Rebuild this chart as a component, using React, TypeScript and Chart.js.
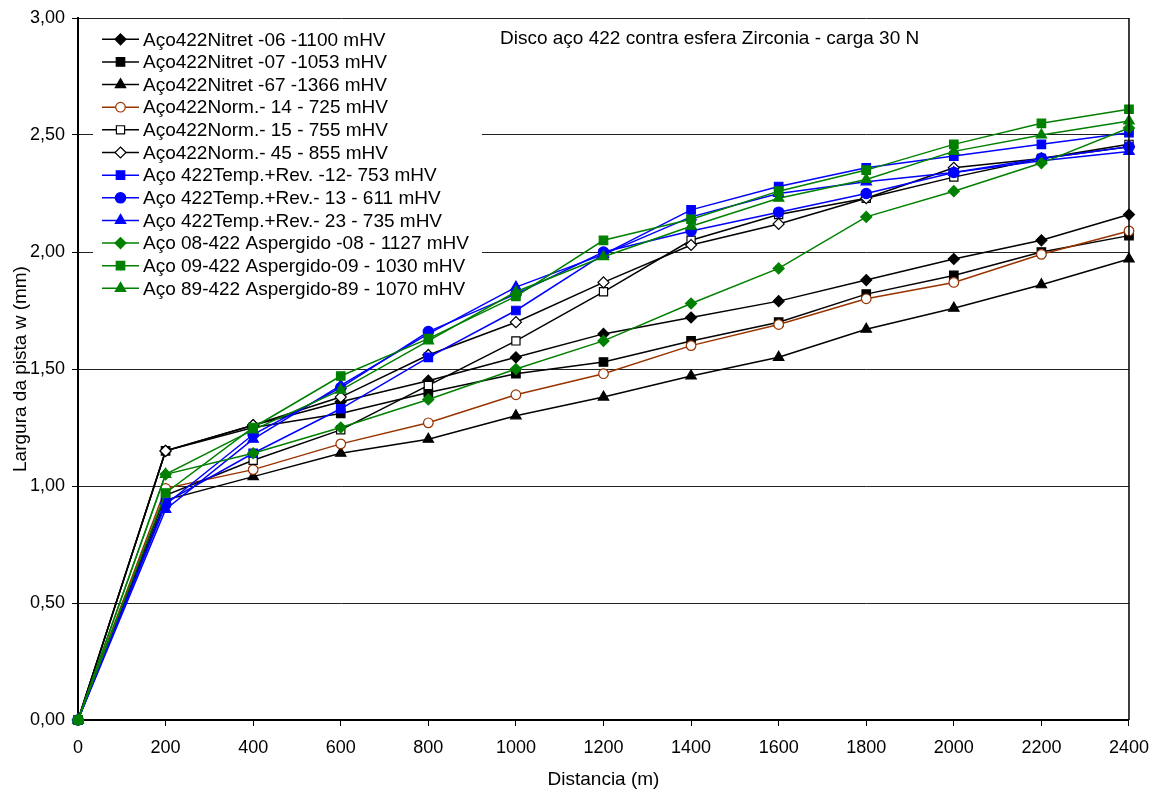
import { useEffect, useRef } from 'react';
import { Chart, registerables } from 'chart.js';

Chart.register(...registerables);

const distances = [0, 200, 400, 600, 800, 1000, 1200, 1400, 1600, 1800, 2000, 2200, 2400];

const nitret06 = [0, 1.15, 1.26, 1.36, 1.45, 1.55, 1.65, 1.72, 1.79, 1.88, 1.97, 2.05, 2.16];
const nitret07 = [0, 1.15, 1.25, 1.31, 1.40, 1.48, 1.53, 1.62, 1.70, 1.82, 1.90, 2.00, 2.07];
const nitret67 = [0, 0.94, 1.04, 1.14, 1.20, 1.30, 1.38, 1.47, 1.55, 1.67, 1.76, 1.86, 1.97];
const norm14 = [0, 0.99, 1.07, 1.18, 1.27, 1.39, 1.48, 1.60, 1.69, 1.80, 1.87, 1.99, 2.09];
const norm15 = [0, 0.96, 1.11, 1.24, 1.43, 1.62, 1.83, 2.05, 2.16, 2.23, 2.32, 2.40, 2.46];
const norm45 = [0, 1.15, 1.26, 1.38, 1.56, 1.70, 1.87, 2.03, 2.12, 2.23, 2.36, 2.40, 2.45];
const temp12 = [0, 0.93, 1.14, 1.33, 1.55, 1.75, 1.99, 2.18, 2.28, 2.36, 2.41, 2.46, 2.51];
const temp13 = [0, 0.92, 1.22, 1.42, 1.66, 1.82, 2.00, 2.09, 2.17, 2.25, 2.34, 2.40, 2.45];
const temp23 = [0, 0.90, 1.20, 1.43, 1.65, 1.85, 1.99, 2.15, 2.25, 2.30, 2.34, 2.39, 2.43];
const asperg08 = [0, 1.05, 1.14, 1.25, 1.37, 1.50, 1.62, 1.78, 1.93, 2.15, 2.26, 2.38, 2.53];
const asperg09 = [0, 0.97, 1.25, 1.47, 1.63, 1.81, 2.05, 2.14, 2.26, 2.35, 2.46, 2.55, 2.61];
const asperg89 = [0, 1.05, 1.24, 1.41, 1.62, 1.83, 1.98, 2.11, 2.23, 2.31, 2.43, 2.50, 2.56];

const seriesLabels = [
  'Aço422Nitret -06 -1100 mHV',
  'Aço422Nitret -07 -1053 mHV',
  'Aço422Nitret -67 -1366 mHV',
  'Aço422Norm.- 14 - 725 mHV',
  'Aço422Norm.- 15 - 755 mHV',
  'Aço422Norm.- 45 - 855 mHV',
  'Aço 422Temp.+Rev. -12- 753 mHV',
  'Aço 422Temp.+Rev.- 13 - 611 mHV',
  'Aço 422Temp.+Rev.- 23 - 735 mHV',
  'Aço 08-422 Aspergido -08 - 1127 mHV',
  'Aço 09-422 Aspergido-09 - 1030 mHV',
  'Aço 89-422 Aspergido-89 - 1070 mHV',
];

const chartTitle = 'Disco aço 422 contra esfera Zirconia - carga 30 N';
const xTitle = 'Distancia (m)';
const yTitle = 'Largura da pista w (mm)';

const BLACK = '#000000';
const BROWN = '#993300';
const BLUE = '#0000FF';
const GREEN = '#008000';

const FONT = '"Liberation Sans", Arial, Helvetica, sans-serif';

type Style = { color: string; shape: string; filled: boolean; r: number };
const styles: Style[] = [
  { color: BLACK, shape: 'rectRot', filled: true, r: 5.5 },
  { color: BLACK, shape: 'rect', filled: true, r: 6 },
  { color: BLACK, shape: 'triangle', filled: true, r: 6 },
  { color: BROWN, shape: 'circle', filled: false, r: 4.8 },
  { color: BLACK, shape: 'rect', filled: false, r: 5.8 },
  { color: BLACK, shape: 'rectRot', filled: false, r: 5.5 },
  { color: BLUE, shape: 'rect', filled: true, r: 6 },
  { color: BLUE, shape: 'circle', filled: true, r: 5.2 },
  { color: BLUE, shape: 'triangle', filled: true, r: 6 },
  { color: GREEN, shape: 'rectRot', filled: true, r: 5.5 },
  { color: GREEN, shape: 'rect', filled: true, r: 6 },
  { color: GREEN, shape: 'triangle', filled: true, r: 6 },
];

const allSeries = [nitret06, nitret07, nitret67, norm14, norm15, norm45, temp12, temp13, temp23, asperg08, asperg09, asperg89];

function drawMarker(ctx: CanvasRenderingContext2D, st: Style, x: number, y: number) {
  const r = st.r;
  ctx.beginPath();
  if (st.shape === 'circle') {
    ctx.arc(x, y, r, 0, Math.PI * 2);
  } else if (st.shape === 'rect') {
    const s = Math.SQRT1_2 * r;
    ctx.rect(x - s, y - s, 2 * s, 2 * s);
  } else if (st.shape === 'rectRot') {
    ctx.moveTo(x, y - r);
    ctx.lineTo(x + r, y);
    ctx.lineTo(x, y + r);
    ctx.lineTo(x - r, y);
    ctx.closePath();
  } else if (st.shape === 'triangle') {
    const a = (Math.PI * 2) / 3;
    let rad = 0;
    ctx.moveTo(x + Math.sin(rad) * r, y - Math.cos(rad) * r);
    rad += a;
    ctx.lineTo(x + Math.sin(rad) * r, y - Math.cos(rad) * r);
    rad += a;
    ctx.lineTo(x + Math.sin(rad) * r, y - Math.cos(rad) * r);
    ctx.closePath();
  }
  ctx.fillStyle = st.filled ? st.color : '#ffffff';
  ctx.strokeStyle = st.color;
  ctx.lineWidth = 1.2;
  ctx.fill();
  ctx.stroke();
}

const legendPlugin = {
  id: 'customLegend',
  beforeDatasetsDraw(chart: any) {
    const ctx: CanvasRenderingContext2D = chart.ctx;
    ctx.save();
    ctx.fillStyle = '#ffffff';
    ctx.fillRect(93, 24, 389, 278);
    const rowStart = 39.3;
    const rowStep = 22.64;
    ctx.font = `19px ${FONT}`;
    ctx.textBaseline = 'middle';
    ctx.textAlign = 'left';
    seriesLabels.forEach((label, i) => {
      const y = rowStart + i * rowStep;
      const st = styles[i];
      ctx.beginPath();
      ctx.strokeStyle = st.color;
      ctx.lineWidth = 1.5;
      ctx.moveTo(102, y);
      ctx.lineTo(139, y);
      ctx.stroke();
      drawMarker(ctx, st, 120.5, y);
      ctx.fillStyle = '#000000';
      ctx.fillText(label, 143, y + 1);
    });
    ctx.fillStyle = '#000000';
    ctx.fillText(chartTitle, 500, 39);
    ctx.restore();
  },
  afterDraw(chart: any) {
    const ctx: CanvasRenderingContext2D = chart.ctx;
    const a = chart.chartArea;
    ctx.save();
    ctx.strokeStyle = '#000000';
    ctx.lineWidth = 1.5;
    ctx.beginPath();
    ctx.moveTo(a.right, a.top);
    ctx.lineTo(a.right, a.bottom);
    ctx.stroke();
    ctx.restore();
  },
};

export default function App() {
  const ref = useRef<HTMLCanvasElement>(null);
  useEffect(() => {
    document.body.style.margin = '0';
    if (!ref.current) return;
    const n = allSeries.length;
    const datasets = allSeries.map((vals, i) => {
      const st = styles[i];
      return {
        label: seriesLabels[i],
        data: vals.map((y, j) => ({ x: distances[j], y })),
        borderColor: st.color,
        backgroundColor: st.filled ? st.color : '#ffffff',
        pointBackgroundColor: st.filled ? st.color : '#ffffff',
        pointBorderColor: st.color,
        pointStyle: st.shape,
        pointRadius: st.r,
        pointBorderWidth: 1.2,
        borderWidth: 1.5,
        tension: 0,
        clip: false,
        order: n - i,
      };
    });
    const chart = new Chart(ref.current, {
      type: 'line',
      data: { datasets: datasets as any },
      options: {
        responsive: false,
        animation: false,
        devicePixelRatio: 1,
        layout: { padding: { left: 0, right: 30, top: 18, bottom: 0 } },
        plugins: {
          legend: { display: false },
          tooltip: { enabled: false },
          title: { display: false },
        },
        scales: {
          x: {
            type: 'linear',
            min: 0,
            max: 2400,
            afterFit: (s: any) => { s.height = 71; },
            ticks: {
              stepSize: 200,
              color: '#000',
              font: { family: FONT, size: 18 },
              padding: 11,
              maxRotation: 0,
              autoSkip: false,
              callback: (v: any) => String(v),
            },
            grid: {
              drawOnChartArea: false,
              tickLength: 6,
              tickColor: '#000',
              color: '#000',
            },
            border: { color: '#000', width: 2 },
            title: {
              display: true,
              text: xTitle,
              color: '#000',
              font: { family: FONT, size: 19 },
              padding: { top: 0, bottom: 0 },
            },
          },
          y: {
            type: 'linear',
            min: 0,
            max: 3,
            afterFit: (s: any) => { s.width = 78; },
            ticks: {
              stepSize: 0.5,
              color: '#000',
              font: { family: FONT, size: 18 },
              padding: 7,
              callback: (v: any) => Number(v).toFixed(2).replace('.', ','),
            },
            grid: {
              color: '#222',
              lineWidth: 1,
              tickLength: 6,
              tickColor: '#000',
            },
            border: { color: '#000', width: 2 },
            title: {
              display: true,
              text: yTitle,
              color: '#000',
              font: { family: FONT, size: 19 },
              padding: { top: 9, bottom: 0 },
            },
          },
        },
      },
      plugins: [legendPlugin],
    });
    return () => chart.destroy();
  }, []);
  return (
    <div style={{ width: 1160, height: 791, background: '#fff' }}>
      <canvas ref={ref} width={1160} height={791} style={{ display: 'block' }} />
    </div>
  );
}
